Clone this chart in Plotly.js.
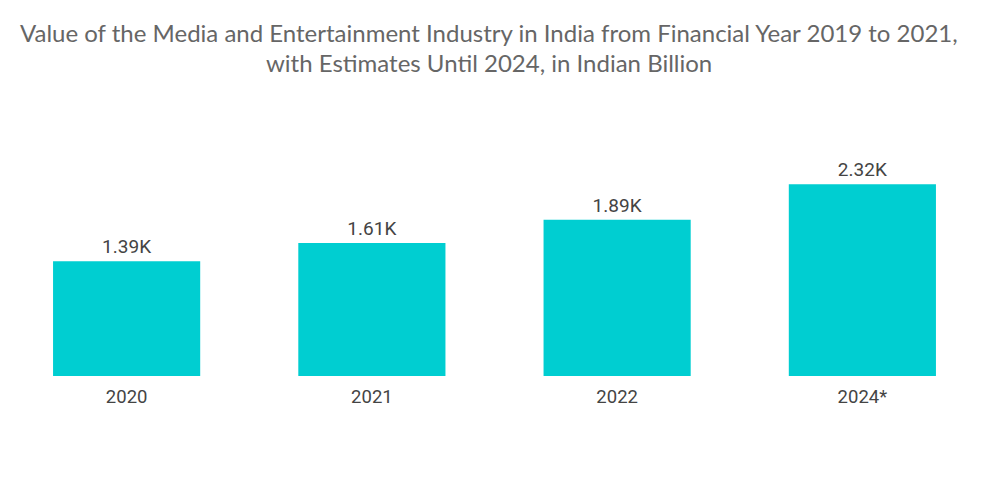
<!DOCTYPE html>
<html>
<head>
<meta charset="utf-8">
<script src="https://cdn.plot.ly/plotly-3.0.1.min.js"></script>
<style>html,body{margin:0;padding:0;background:#fff;}#chart{width:1000px;height:504px;}</style>
</head>
<body>
<div id="chart"></div>
<script>
var categories = ["2020", "2021", "2022", "2024*"];
var values = [1390, 1610, 1890, 2320];
var labels = values.map(function(v){ return (v/1000).toFixed(2) + "K"; });
var titleLines = [
  "Value of the Media and Entertainment Industry in India from Financial Year 2019 to 2021,",
  "with Estimates Until 2024, in Indian Billion"
];

var trace = {
  type: "bar",
  x: categories,
  y: values,
  text: labels,
  textposition: "outside",
  textfont: {family: "Roboto, sans-serif", size: 19, color: "#444"},
  cliponaxis: false,
  marker: {color: "#00CED1"},
  hoverinfo: "skip"
};

var titleFont = {family: "Lato, sans-serif", size: 24, color: "#666"};

var layout = {
  width: 1000,
  height: 504,
  margin: {l: 4, r: 15, t: 110, b: 128},
  paper_bgcolor: "#fff",
  plot_bgcolor: "#fff",
  bargap: 0.4,
  showlegend: false,
  annotations: [
    {text: titleLines[0], xref: "paper", yref: "paper", x: 0.4949, y: 1.293, xanchor: "center", yanchor: "middle", showarrow: false, font: titleFont},
    {text: titleLines[1], xref: "paper", yref: "paper", x: 0.4949, y: 1.180, xanchor: "center", yanchor: "middle", showarrow: false, font: titleFont}
  ],
  xaxis: {
    type: "category",
    showgrid: false,
    zeroline: false,
    showline: false,
    ticks: "",
    ticklabelstandoff: 7,
    tickfont: {family: "Roboto, sans-serif", size: 18.5, color: "#444"}
  },
  yaxis: {
    range: [0, 3220],
    visible: false,
    showgrid: false,
    zeroline: false
  }
};

Plotly.newPlot("chart", [trace], layout, {displayModeBar: false, staticPlot: true});
</script>
</body>
</html>
